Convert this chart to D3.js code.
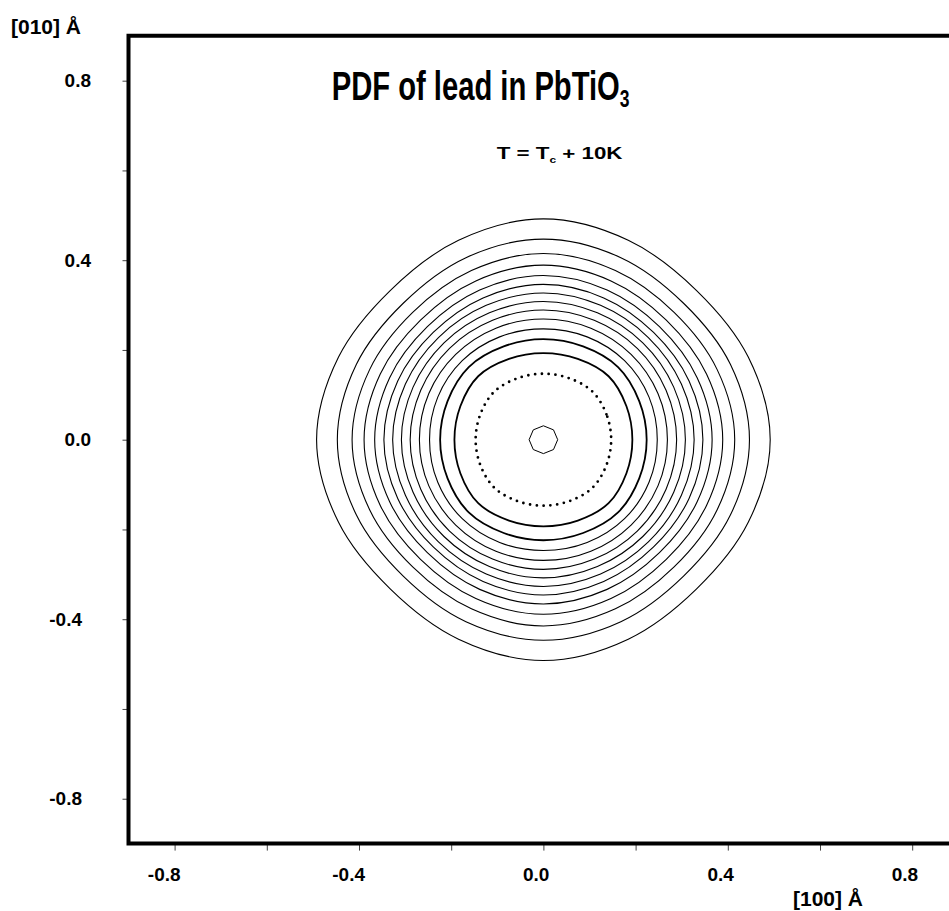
<!DOCTYPE html>
<html lang="en">
<head>
	<meta charset="UTF-8">
	<title>PDF of lead in PbTiO3</title>
	<script src="https://cdn.jsdelivr.net/npm/d3@7"></script>
	<style>
		body { margin: 0; background: #fff; }
		text { font-family: "Liberation Sans", Arial, Helvetica, sans-serif; font-weight: bold; fill: #000; white-space: pre; }
	</style>
</head>
<body>
	<svg id="grafico" width="949" height="911"></svg>
	<script>
	// tick positions and labels (Å)
	var tickValues = [-0.8, -0.6, -0.4, -0.2, 0, 0.2, 0.4, 0.6, 0.8];
	var labelValues = [-0.8, -0.4, 0, 0.4, 0.8];
	var labelText = ["-0.8", "-0.4", "0.0", "0.4", "0.8"];

	// contour radii, outermost first (Å)
	// axisR: along [100]/[010], midR: at 22.5 deg, diagR: along [110]
	var axisR = [0.492, 0.447, 0.415, 0.389, 0.366, 0.346, 0.327, 0.308, 0.289, 0.269, 0.247, 0.224, 0.193, 0.147, 0.031];
	var midR  = [0.481, 0.439, 0.408, 0.383, 0.361, 0.342, 0.324, 0.306, 0.288, 0.269, 0.248, 0.225, 0.195, 0.148, 0.031];
	var diagR = [0.470, 0.430, 0.401, 0.377, 0.356, 0.338, 0.322, 0.305, 0.288, 0.269, 0.249, 0.229, 0.200, 0.151, 0.031];
	var lineStyle = ["thin","thin","thin","thin","thin","thin","thin","thin","thin","thin","thin","thick","thick","dot","octagon"];

	var svg = d3.select("#grafico");
	var x = d3.scaleLinear().domain([-0.9, 0.9]).range([128.5, 958.3]);
	var y = d3.scaleLinear().domain([-0.9, 0.9]).range([843.6, 35.8]);

	// contours
	var line = d3.line().x(function(d){ return x(d[0]); }).y(function(d){ return y(d[1]); });
	var g = svg.append("g").attr("fill", "none").attr("stroke", "#000");

	axisR.forEach(function(r0, i){
		var pts = [];
		if (lineStyle[i] === "octagon"){
			for (var k = 0; k < 8; k++){
				var a = k * Math.PI / 4;
				pts.push([r0 * Math.cos(a), r0 * Math.sin(a)]);
			}
			g.append("path").attr("d", line.curve(d3.curveLinearClosed)(pts)).attr("stroke-width", 1);
			return;
		}
		var ring = [axisR[i], midR[i], diagR[i], midR[i]];
		for (var k = 0; k < 16; k++){
			var a = k * Math.PI / 8;
			var r = ring[k % 4];
			pts.push([r * Math.cos(a), r * Math.sin(a)]);
		}
		var p = g.append("path").attr("d", line.curve(d3.curveCatmullRomClosed.alpha(0.5))(pts));
		if (lineStyle[i] === "thin") p.attr("stroke-width", 1.1);
		else if (lineStyle[i] === "thick") p.attr("stroke-width", 1.8);
		else p.attr("stroke-width", 2.8).attr("stroke-linecap", "round").attr("stroke-dasharray", "0,6.8");
	});

	// ticks
	svg.append("g")
		.attr("transform", "translate(" + x(-0.9) + ",0)")
		.call(d3.axisLeft(y).tickValues(tickValues).tickSize(6).tickFormat(""))
		.call(function(s){ s.select(".domain").remove(); s.selectAll("line").attr("stroke", "#444"); });
	svg.append("g")
		.attr("transform", "translate(0," + y(-0.9) + ")")
		.call(d3.axisBottom(x).tickValues(tickValues).tickSize(7).tickFormat(""))
		.call(function(s){ s.select(".domain").remove(); s.selectAll("line").attr("stroke", "#444"); });

	// frame (right side runs off the page)
	svg.append("path")
		.attr("d", "M" + x(0.9) + "," + y(0.9) + "H" + x(-0.9) + "V" + y(-0.9) + "H" + x(0.9))
		.attr("fill", "none").attr("stroke", "#000").attr("stroke-width", 4);

	// tick labels
	svg.selectAll(".ylab").data(labelValues).enter().append("text")
		.attr("class", "ylab")
		.attr("x", function(d){ return d < 0 ? 82 : 91; })
		.attr("y", function(d){ return y(d); })
		.attr("dy", "0.35em")
		.attr("text-anchor", "end")
		.style("font-size", "19px")
		.text(function(d, i){ return labelText[i]; });
	svg.selectAll(".xlab").data(labelValues).enter().append("text")
		.attr("class", "xlab")
		.attr("x", function(d){ return x(d) + 6; })
		.attr("y", 881)
		.attr("text-anchor", "end")
		.style("font-size", "19px")
		.text(function(d, i){ return labelText[i]; });

	// axis titles
	svg.append("text").attr("x", 11).attr("y", 34).style("font-size", "21px").text("[010] Å");
	svg.append("text").attr("x", 793).attr("y", 906).style("font-size", "21px").text("[100] Å");

	// title
	var t = svg.append("text").attr("transform", "translate(331.7,100) scale(0.73,1)").style("font-size", "40px");
	t.append("tspan").text("PDF of lead in PbTiO");
	t.append("tspan").attr("dy", 7).style("font-size", "24px").text("3");

	var st = svg.append("text").attr("transform", "translate(496.7,158.5) scale(1.33,1)").style("font-size", "16.8px");
	st.append("tspan").text("T = T");
	st.append("tspan").attr("dy", 4).style("font-size", "9px").text("c");
	st.append("tspan").attr("dy", -4).text(" + 10K");
	</script>
</body>
</html>
